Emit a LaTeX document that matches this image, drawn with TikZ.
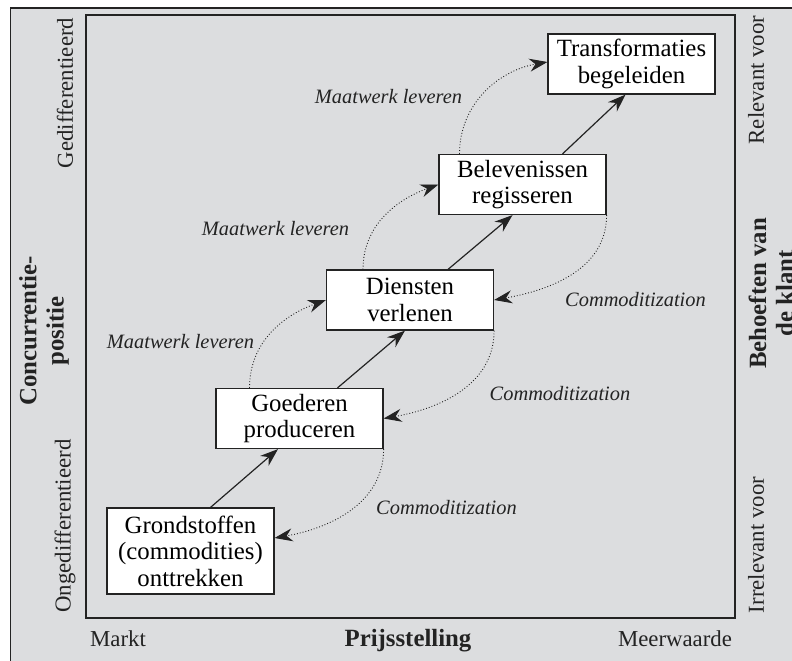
\documentclass[tikz,border=0pt]{standalone}
\usepackage{fontspec}
\setmainfont{Liberation Serif}
\usetikzlibrary{arrows.meta}
\definecolor{bggray}{RGB}{220,221,223}
\definecolor{inkgray}{RGB}{35,35,35}

\begin{document}
\begin{tikzpicture}[x=0.5pt,y=0.5pt]
    % Define styles
    \tikzstyle{stage} = [rectangle, minimum width=83.5pt, minimum height=30pt, inner sep=2pt,
                        align=center, draw=inkgray, line width=0.6pt, fill=white,
                        font=\fontsize{12.4}{13.2}\selectfont]
    \tikzstyle{arrow} = [line width=0.6pt, draw=inkgray, -{Stealth[length=9pt,width=6.5pt]}]
    \tikzstyle{loop} = [line width=0.45pt, draw=inkgray, densely dotted, -{Stealth[length=9pt,width=6.5pt]}]
    \tikzstyle{flow} = [font=\fontsize{10.2}{12}\selectfont\itshape, text=inkgray]
    \tikzstyle{axis} = [font=\fontsize{11.4}{13}\selectfont, text=inkgray]
    \tikzstyle{axistitle} = [font=\fontsize{12.4}{13.6}\selectfont\bfseries, text=inkgray, align=center]

    % Canvas and frames
    \useasboundingbox (0,0) rectangle (792,660);
    \clip (0,0) rectangle (792,660);
    \fill[white] (0,0) rectangle (792,660);
    \draw[draw=inkgray, line width=0.6pt, fill=bggray] (10.5,652) rectangle (800,-10);
    \draw[draw=inkgray, line width=0.7pt] (86,645) rectangle (735,42);

    % Nodes positioned absolutely
    \node[stage] (trans) at (631.5,596) {Transformaties\\begeleiden};
    \node[stage] (bel) at (522.5,475.5) {Belevenissen\\regisseren};
    \node[stage] (dien) at (410,360) {Diensten\\verlenen};
    \node[stage] (goed) at (299.5,241.5) {Goederen\\produceren};
    \node[stage, minimum height=43pt] (grond) at (190.5,109) {Grondstoffen\\(commodities)\\onttrekken};

    % Arrows
    \draw[arrow] ([xshift=10pt]grond.north) -- ([xshift=-10.75pt]goed.south);
    \draw[arrow] ([xshift=19pt]goed.north) -- ([xshift=-2.5pt]dien.south);
    \draw[arrow] ([xshift=19pt]dien.north) -- ([xshift=-5pt]bel.south);
    \draw[arrow] ([xshift=20pt]bel.north) -- ([xshift=-3pt]trans.south);

    % Maatwerk loops
    \draw[loop] ([xshift=-25pt]goed.north) to[out=90,in=200] (dien.west);
    \draw[loop] ([xshift=-23.5pt]dien.north) to[out=90,in=200] (bel.west);
    \draw[loop] ([xshift=-31.5pt]bel.north) to[out=90,in=190] ([yshift=1pt]trans.west);

    % Commoditization loops
    \draw[loop] (bel.south east) to[out=-90,in=10] (dien.east);
    \draw[loop] (dien.south east) to[out=-90,in=10] (goed.east);
    \draw[loop] (goed.south east) to[out=-90,in=10] ([yshift=6.5pt]grond.east);

    % Loop labels
    \node[flow] (mw1) at (388.5,563) {Maatwerk leveren};
    \node[flow] (mw2) at (275.5,431) {Maatwerk leveren};
    \node[flow] (mw3) at (180.5,318) {Maatwerk leveren};
    \node[flow] (cm1) at (635.5,360) {Commoditization};
    \node[flow] (cm2) at (560,266) {Commoditization};
    \node[flow] (cm3) at (446.5,152) {Commoditization};

    % Axis labels
    \node[axis, rotate=90] (hi) at (65,567) {Gedifferentieerd};
    \node[axis, rotate=90] (lo) at (65,134) {Ongedifferentieerd};
    \node[axistitle, rotate=90] (conc) at (44,329) {Concurrentie-\\positie};
    \node[axis, rotate=90] (rel) at (756,580) {Relevant voor};
    \node[axis, rotate=90] (irr) at (756,115) {Irrelevant voor};
    \node[axistitle, rotate=90] (need) at (771,366.5) {Behoeften van\\de klant};
    \node[axis, anchor=base] (markt) at (118,14) {Markt};
    \node[axistitle, anchor=base] (prijs) at (408,14) {Prijsstelling};
    \node[axis, anchor=base] (meer) at (675,14) {Meerwaarde};
\end{tikzpicture}
\end{document}
